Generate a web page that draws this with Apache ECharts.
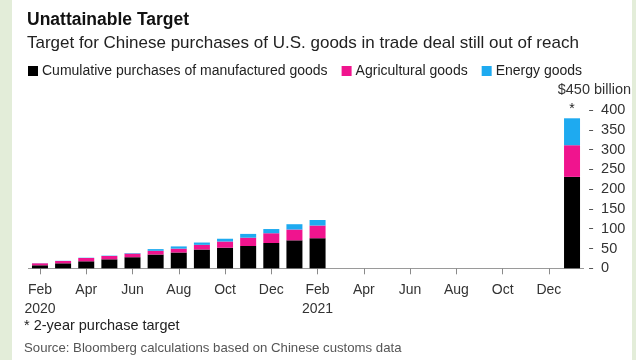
<!DOCTYPE html>
<html>
<head>
<meta charset="utf-8">
<script src="https://cdn.jsdelivr.net/npm/echarts@6/dist/echarts.min.js"></script>
<style>
  html, body { margin: 0; padding: 0; background: #fff; }
  #chart { width: 636px; height: 360px; }
</style>
</head>
<body>
<div id="chart"></div>
<script>
// Monthly categories, Feb 2020 through Jan 2022 (the 2-year target sits at Jan 2022)
const categories = [
  'Feb 2020','Mar 2020','Apr 2020','May 2020','Jun 2020','Jul 2020','Aug 2020','Sep 2020',
  'Oct 2020','Nov 2020','Dec 2020','Jan 2021','Feb 2021','Mar 2021','Apr 2021','May 2021',
  'Jun 2021','Jul 2021','Aug 2021','Sep 2021','Oct 2021','Nov 2021','Dec 2021','Jan 2022'
];

// Cumulative purchases, $ billion, Feb 2020 - Feb 2021
const manufactured = [7.6, 12.6, 17.7, 22.7, 28.0, 34.8, 39.9, 47.5, 52.0, 56.3, 63.9, 70.7, 76.0];
const agricultural = [5.0, 5.8, 8.3, 8.4, 9.3, 9.4, 9.8, 11.8, 15.7, 21.0, 24.7, 27.3, 32.1];
const energy       = [0.3, 0.5, 0.7, 0.9, 1.2, 4.3, 5.6, 5.8, 7.0, 9.6, 10.6, 13.4, 13.9];

// 2-year purchase target, $ billion
const targetManufactured = 231;
const targetAgricultural = 80;
const targetEnergy = 68;

// Value-axis tick labels
const yTicks = [0, 50, 100, 150, 200, 250, 300, 350, 400];
const yTopValue = 450;
const yTopLabel = '$450 billion';

function fullSeries(monthly, target) {
  const out = categories.map((c, i) => (i < monthly.length ? monthly[i] : null));
  out[categories.length - 1] = target;
  return out;
}

const FONT = '"Liberation Sans", Arial, sans-serif';
const BLACK = '#000000';
const PINK = '#f0148e';
const BLUE = '#1eaaf0';

const chart = echarts.init(document.getElementById('chart'), null, { renderer: 'canvas' });

const energyData = fullSeries(energy, targetEnergy).map((v, i) =>
  i === categories.length - 1
    ? { value: v, label: { show: true, formatter: '*', position: 'top', distance: 2,
        color: '#222', fontSize: 14, fontFamily: FONT } }
    : v
);

chart.setOption({
  backgroundColor: '#ffffff',
  animation: false,
  textStyle: { fontFamily: FONT },
  graphic: [
    { type: 'rect', left: 0, top: 0, shape: { width: 12, height: 360 }, style: { fill: '#e3edd9' }, silent: true },
    { type: 'rect', left: 632, top: 0, shape: { width: 4, height: 360 }, style: { fill: '#e3edd9' }, silent: true },
    { type: 'text', left: 24, top: 318, style: { text: '* 2-year purchase target', font: '14.5px ' + FONT, fill: '#222' } },
    { type: 'text', left: 24, top: 342, style: { text: 'Source: Bloomberg calculations based on Chinese customs data', font: '13.2px ' + FONT, fill: '#555' } }
  ],
  title: [
    { text: 'Unattainable Target', left: 22, top: 6,
      textStyle: { fontFamily: FONT, fontSize: 17.5, fontWeight: 'bold', color: '#111' } },
    { text: 'Target for Chinese purchases of U.S. goods in trade deal still out of reach', left: 22, top: 30,
      textStyle: { fontFamily: FONT, fontSize: 17, fontWeight: 'normal', color: '#222' } }
  ],
  legend: {
    left: 23, top: 59,
    icon: 'rect', itemWidth: 10, itemHeight: 10, itemGap: 14,
    textStyle: { fontFamily: FONT, fontSize: 14, color: '#222', padding: [0, 0, 0, -1] },
    data: ['Cumulative purchases of manufactured goods', 'Agricultural goods', 'Energy goods']
  },
  grid: { left: 28.4, right: 52.4, top: 90.2, bottom: 91.7, containLabel: false },
  xAxis: {
    type: 'category',
    data: categories,
    boundaryGap: true,
    axisLine: { show: true, lineStyle: { color: '#9a9a9a', width: 1 } },
    axisTick: { show: true, alignWithLabel: true, interval: 1, length: 6, lineStyle: { color: '#8a8a8a' } },
    axisLabel: {
      interval: 1, margin: 12, fontSize: 14, lineHeight: 19, color: '#333', fontFamily: FONT,
      formatter: function (v) {
        const parts = v.split(' ');
        return parts[0] === 'Feb' ? parts[0] + '\n' + parts[1] : parts[0];
      }
    }
  },
  yAxis: [
    {
      type: 'value', position: 'right', offset: 5.5,
      min: 0, max: yTopValue, interval: 50,
      splitLine: { show: false },
      axisLine: { show: false },
      axisTick: { show: true, length: 4, customValues: yTicks, lineStyle: { color: '#555' } },
      axisLabel: { customValues: yTicks, margin: 12, fontSize: 14.5, color: '#333', fontFamily: FONT }
    },
    {
      type: 'value', position: 'right', offset: 5.5,
      min: 0, max: yTopValue, interval: 50,
      splitLine: { show: false },
      axisLine: { show: false },
      axisTick: { show: false },
      axisLabel: {
        customValues: [yTopValue], align: 'right', margin: 42, fontSize: 14.5, color: '#333', fontFamily: FONT,
        formatter: function () { return yTopLabel; }
      }
    }
  ],
  series: [
    { name: 'Cumulative purchases of manufactured goods', type: 'bar', stack: 'total', barWidth: 16,
      itemStyle: { color: BLACK }, data: fullSeries(manufactured, targetManufactured) },
    { name: 'Agricultural goods', type: 'bar', stack: 'total', barWidth: 16,
      itemStyle: { color: PINK }, data: fullSeries(agricultural, targetAgricultural) },
    { name: 'Energy goods', type: 'bar', stack: 'total', barWidth: 16,
      itemStyle: { color: BLUE }, data: energyData }
  ]
});
</script>
</body>
</html>
